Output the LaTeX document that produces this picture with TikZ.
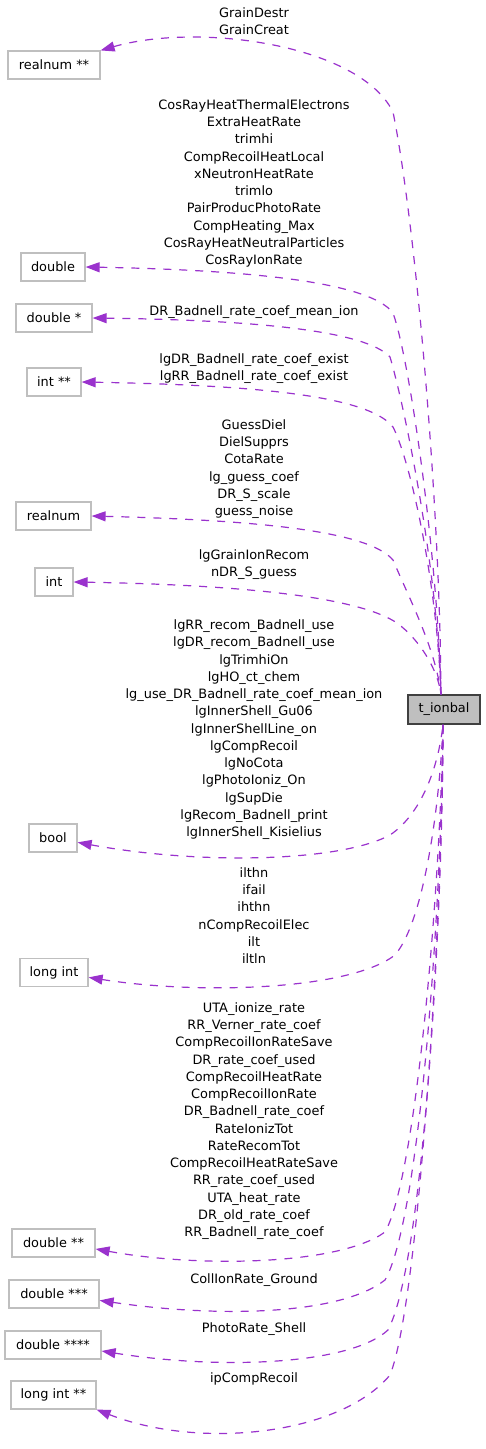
\documentclass[tikz,border=0pt]{standalone}
\usepackage{fontspec}
\setmainfont{DejaVu Sans}
\usetikzlibrary{arrows.meta}
\definecolor{edgec}{HTML}{9A32CD}
\definecolor{boxline}{HTML}{BFBFBF}
\definecolor{mainfill}{HTML}{BFBFBF}
\definecolor{mainline}{HTML}{404040}
\begin{document}
\begin{tikzpicture}[x=1pt,y=-1pt,
  font=\fontsize{12.9}{17.25}\selectfont,
  typebox/.style={draw=boxline, fill=white, line width=1.2pt, minimum height=28pt, inner sep=0pt},
  mainbox/.style={draw=mainline, fill=mainfill, line width=1.2pt, minimum height=29pt, minimum width=72pt, inner sep=0pt},
  lab/.style={align=center, anchor=base, inner sep=0pt},
  uses/.style={draw=edgec, line width=1.2pt, dash pattern=on 8pt off 8pt, arrows={Triangle[length=14pt,width=10pt,fill=edgec]-}}]
\useasboundingbox (0,0) rectangle (485,1449);
% type nodes
\node[typebox, minimum width=92pt] (rnpp) at (54,65) {realnum **};
\node[typebox, minimum width=64pt] (dbl) at (53,267) {double};
\node[typebox, minimum width=76pt] (dblp) at (54,318) {double *};
\node[typebox, minimum width=54pt] (intpp) at (54,382) {int **};
\node[typebox, minimum width=75pt] (rn) at (53.5,516) {realnum};
\node[typebox, minimum width=38pt] (int) at (54,582) {int};
\node[mainbox] (t) at (444,709.5) {t\_ionbal};
\node[typebox, minimum width=48pt] (bool) at (53,838) {bool};
\node[typebox, minimum width=68pt] (lint) at (54,972.5) {long int};
\node[typebox, minimum width=83pt] (dblpp) at (53.5,1243) {double **};
\node[typebox, minimum width=90pt] (dblppp) at (54,1294) {double ***};
\node[typebox, minimum width=96pt] (dblpppp) at (53,1345) {double ****};
\node[typebox, minimum width=85pt] (lintpp) at (53.5,1395) {long int **};
% labels (anchor = baseline of the last line)
\node[lab] (l1) at (254,34.7) {GrainDestr\\GrainCreat};
\node[lab] (l2) at (254,264.7) {CosRayHeatThermalElectrons\\ExtraHeatRate\\trimhi\\CompRecoilHeatLocal\\xNeutronHeatRate\\trimlo\\PairProducPhotoRate\\CompHeating\_Max\\CosRayHeatNeutralParticles\\CosRayIonRate};
\node[lab] (l3) at (254,315.7) {DR\_Badnell\_rate\_coef\_mean\_ion};
\node[lab] (l4) at (254,380.7) {lgDR\_Badnell\_rate\_coef\_exist\\lgRR\_Badnell\_rate\_coef\_exist};
\node[lab] (l5) at (254,515.7) {GuessDiel\\DielSupprs\\CotaRate\\lg\_guess\_coef\\DR\_S\_scale\\guess\_noise};
\node[lab] (l6) at (254,576.7) {lgGrainIonRecom\\nDR\_S\_guess};
\node[lab] (l7) at (254,836.7) {lgRR\_recom\_Badnell\_use\\lgDR\_recom\_Badnell\_use\\lgTrimhiOn\\lgHO\_ct\_chem\\lg\_use\_DR\_Badnell\_rate\_coef\_mean\_ion\\lgInnerShell\_Gu06\\lgInnerShellLine\_on\\lgCompRecoil\\lgNoCota\\lgPhotoIoniz\_On\\lgSupDie\\lgRecom\_Badnell\_print\\lgInnerShell\_Kisielius};
\node[lab] (l8) at (254,963.7) {ilthn\\ifail\\ihthn\\nCompRecoilElec\\ilt\\iltln};
\node[lab] (l9) at (254,1236.7) {UTA\_ionize\_rate\\RR\_Verner\_rate\_coef\\CompRecoilIonRateSave\\DR\_rate\_coef\_used\\CompRecoilHeatRate\\CompRecoilIonRate\\DR\_Badnell\_rate\_coef\\RateIonizTot\\RateRecomTot\\CompRecoilHeatRateSave\\RR\_rate\_coef\_used\\UTA\_heat\_rate\\DR\_old\_rate\_coef\\RR\_Badnell\_rate\_coef};
\node[lab] (l10) at (254,1283.7) {CollIonRate\_Ground};
\node[lab] (l11) at (254,1332.7) {PhotoRate\_Shell};
\node[lab] (l12) at (254,1382.7) {ipCompRecoil};
% edges (upper)
\draw[uses] (rnpp.north east) .. controls (200,22) and (360,45) .. (393,112) .. controls (415,220) and (440,500) .. ([xshift=-3pt]t.north);
\draw[uses] (dbl.east) .. controls (250,270) and (370,282) .. (393,313) .. controls (410,360) and (438,560) .. ([xshift=-3pt]t.north);
\draw[uses] (dblp.east) .. controls (250,320) and (365,330) .. (390,357) .. controls (403,400) and (437,560) .. ([xshift=-3pt]t.north);
\draw[uses] (intpp.east) .. controls (250,385) and (368,395) .. (393,427) .. controls (410,460) and (437,580) .. ([xshift=-3pt]t.north);
\draw[uses] (rn.east) .. controls (250,520) and (368,530) .. (393,560) .. controls (410,600) and (436,650) .. ([xshift=-3pt]t.north);
\draw[uses] (int.east) .. controls (250,585) and (360,598) .. (397,623) .. controls (420,640) and (438,670) .. ([xshift=-3pt]t.north);
% edges (lower)
\draw[uses] (bool.-10) .. controls (200,865) and (340,862) .. (390,835) .. controls (420,815) and (438,770) .. ([xshift=-1pt]t.south);
\draw[uses] (lint.-8) .. controls (200,995) and (350,990) .. (395,955) .. controls (425,920) and (440,800) .. ([xshift=-1pt]t.south);
\draw[uses] (dblpp.-8) .. controls (200,1268) and (340,1265) .. (385,1232) .. controls (415,1180) and (440,900) .. ([xshift=-1pt]t.south);
\draw[uses] (dblppp.-8) .. controls (220,1318) and (340,1315) .. (385,1280) .. controls (420,1220) and (442,900) .. ([xshift=-1pt]t.south);
\draw[uses] (dblpppp.-7) .. controls (220,1370) and (350,1365) .. (388,1330) .. controls (425,1260) and (443,900) .. ([xshift=-1pt]t.south);
\draw[uses] (lintpp.south east) .. controls (200,1450) and (340,1435) .. (390,1375) .. controls (420,1300) and (443,900) .. ([xshift=-1pt]t.south);
\end{tikzpicture}
\end{document}
